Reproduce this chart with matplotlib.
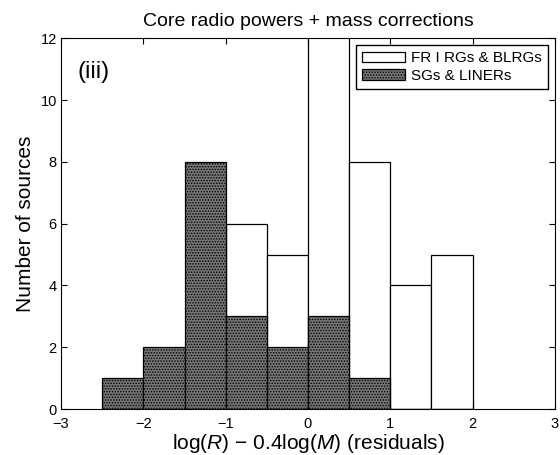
import matplotlib
matplotlib.use('Agg')
import matplotlib.pyplot as plt
import numpy as np

plt.rcParams['font.family'] = ['Liberation Sans', 'DejaVu Sans']
plt.rcParams['mathtext.fontset'] = 'custom'
plt.rcParams['mathtext.it'] = 'Liberation Sans:italic'
plt.rcParams['mathtext.rm'] = 'Liberation Sans'
plt.rcParams['hatch.color'] = '#c8c8c8'
plt.rcParams['hatch.linewidth'] = 0.7

# histogram data (bin width 0.5)
bin_left = [-2.5, -2.0, -1.5, -1.0, -0.5, 0.0, 0.5, 1.0, 1.5]
frI_counts = [0, 0, 0, 6, 5, 13, 8, 4, 5]    # FR I RGs & BLRGs
sg_counts = [1, 2, 8, 3, 2, 3, 1, 0, 0]      # SGs & LINERs
bin_width = 0.5

fig = plt.figure(figsize=(5.6, 4.55), dpi=100)
ax = fig.add_axes([0.109, 0.101, 0.882, 0.815])

ax.bar(bin_left, frI_counts, width=bin_width, align='edge', color='white',
       edgecolor='black', linewidth=0.9, label='FR I RGs & BLRGs')
ax.bar(bin_left, sg_counts, width=bin_width, align='edge', color='#767676',
       edgecolor='black', linewidth=0.9, hatch='......', label='SGs & LINERs')

ax.set_xlim(-3, 3)
ax.set_ylim(0, 12)
ax.set_xticks(np.arange(-3, 4, 1))
ax.set_yticks(np.arange(0, 13, 2))
ax.set_xticklabels(['\u22123', '\u22122', '\u22121', '0', '1', '2', '3'])
ax.tick_params(direction='in', top=True, right=True, labelsize=10.5, length=4)
ax.tick_params(axis='x', pad=5.5)
ax.tick_params(axis='y', pad=3)

ax.set_title('Core radio powers + mass corrections', fontsize=14, pad=9)
ax.set_xlabel('log($R$) \u2212 0.4log($M$) (residuals)', fontsize=15, labelpad=1)
ax.set_ylabel('Number of sources', fontsize=15, labelpad=4)
ax.text(-2.8, 10.9, '(iii)', fontsize=17, va='center')

ax.legend(loc='upper right', fontsize=11, frameon=True, fancybox=False,
          edgecolor='black', framealpha=1, handlelength=2.8, handleheight=0.7,
          borderaxespad=0.45, labelspacing=0.25, handletextpad=0.4,
          borderpad=0.4)

fig.savefig('out.png', dpi=100)
